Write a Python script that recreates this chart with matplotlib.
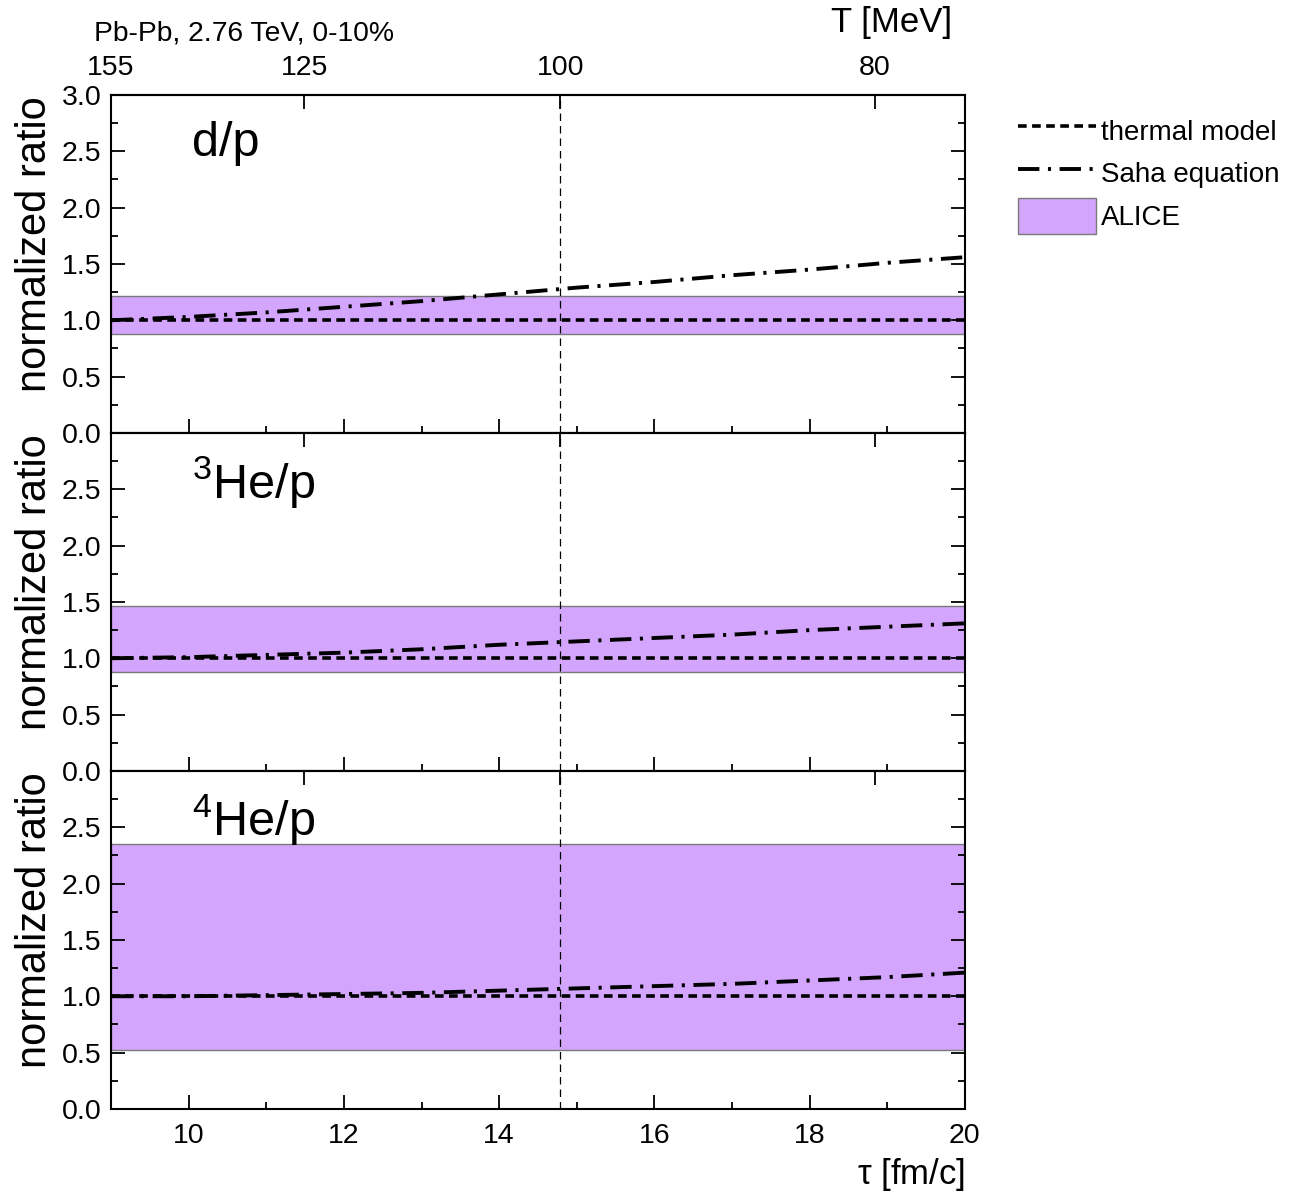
import numpy as np
import matplotlib.pyplot as plt
from matplotlib.patches import Patch
from matplotlib.lines import Line2D
from matplotlib.ticker import MultipleLocator

plt.rcParams['font.family'] = ['Liberation Sans', 'DejaVu Sans']
plt.rcParams['mathtext.fontset'] = 'custom'
plt.rcParams['mathtext.rm'] = 'Liberation Sans'
plt.rcParams['mathtext.it'] = 'Liberation Sans'

# tau [fm/c] grid
tau = [9, 10, 11, 12, 13, 14, 15, 16, 17, 18, 19, 20]

# normalized ratios
thermal = [1.0] * len(tau)
saha_d = [1.00, 1.03, 1.07, 1.12, 1.17, 1.23, 1.29, 1.34, 1.40, 1.45, 1.51, 1.56]
saha_he3 = [1.00, 1.01, 1.03, 1.05, 1.08, 1.12, 1.15, 1.18, 1.21, 1.25, 1.28, 1.31]
saha_he4 = [1.00, 1.00, 1.01, 1.02, 1.03, 1.05, 1.07, 1.09, 1.11, 1.14, 1.17, 1.21]

# ALICE bands (low, high)
alice_d = (0.88, 1.22)
alice_he3 = (0.88, 1.46)
alice_he4 = (0.52, 2.35)

panel_names = ['d/p', r'$^{3}$He/p', r'$^{4}$He/p']

# top axis: temperature at tau
T_labels = ['155', '125', '100', '80']
T_tau = [9.0, 11.49, 14.79, 18.84]
tau_ref = 14.79

band_color = '#d4a5fc'
thermal_ls = (0, (2.4, 1.5))
saha_ls = (0, (5.5, 2.2, 0.8, 2.2))

fig = plt.figure(figsize=(12.94, 11.96), dpi=100)
left, width = 0.0858, 0.6599
h = 0.2826
bottoms = [0.6380, 0.3554, 0.0728]

panels = [(saha_d, alice_d), (saha_he3, alice_he3), (saha_he4, alice_he4)]
axes = []
for i, (saha, band) in enumerate(panels):
    ax = fig.add_axes([left, bottoms[i], width, h])
    axes.append(ax)
    ax.axhspan(band[0], band[1], facecolor=band_color, edgecolor='#7a7a7a', lw=1.0, zorder=1)
    ax.plot(tau, thermal, color='black', lw=2.6, ls=thermal_ls, zorder=3)
    ax.plot(tau, saha, color='black', lw=2.8, ls=saha_ls, zorder=3)
    ax.axvline(tau_ref, color='black', lw=0.9, ls=(0, (6, 4)), zorder=2)
    ax.set_xlim(9, 20)
    ax.set_ylim(0, 3.0)
    ax.xaxis.set_major_locator(MultipleLocator(2))
    ax.xaxis.set_minor_locator(MultipleLocator(1))
    ax.yaxis.set_major_locator(MultipleLocator(0.5))
    ax.yaxis.set_minor_locator(MultipleLocator(0.25))
    ax.yaxis.set_major_formatter(plt.FuncFormatter(lambda v, p: f'{v:.1f}'))
    ax.tick_params(axis='both', which='both', direction='in', right=True, top=False, labelsize=20.5)
    ax.tick_params(axis='both', which='major', length=10, width=1.3)
    ax.tick_params(axis='both', which='minor', length=5, width=1.3)
    ax.tick_params(axis='x', pad=10)
    ax.tick_params(axis='y', pad=7)
    for s in ax.spines.values():
        s.set_linewidth(1.5)
    ax.set_ylabel('normalized ratio', fontsize=30)
    ax.yaxis.set_label_coords(-0.066, 0.56)
    if i > 0:
        ax.set_yticks(np.arange(0, 3.01, 0.5))
        ax.set_yticklabels([f'{v:.1f}' if v < 2.9 else '' for v in np.arange(0, 3.01, 0.5)])
    if i < 2:
        ax.tick_params(axis='x', labelbottom=False)
    sec = ax.secondary_xaxis('top')
    sec.set_xticks(T_tau)
    sec.tick_params(direction='in', length=10, width=1.3, labelsize=20.5, pad=10)
    if i == 0:
        sec.set_xticklabels(T_labels)
    else:
        sec.set_xticklabels([])
    sec.spines['top'].set_linewidth(1.5)
    ax.text(0.095, 0.855, panel_names[i], transform=ax.transAxes, fontsize=35,
            ha='left', va='center')

axes[2].set_xlabel(r'$\tau$ [fm/c]', fontsize=25, loc='right', labelpad=5)

fig.text(0.7357, 0.981, 'T [MeV]', fontsize=25, ha='right', va='center')
fig.text(0.0726, 0.972, 'Pb-Pb, 2.76 TeV, 0-10%', fontsize=20.3, ha='left', va='center')

handles = [
    Line2D([], [], color='black', lw=2.6, ls=thermal_ls),
    Line2D([], [], color='black', lw=2.8, ls=saha_ls),
    Patch(facecolor=band_color, edgecolor='#7a7a7a', lw=1.0),
]
fig.legend(handles, ['thermal model', 'Saha equation', 'ALICE'],
           loc='upper left', bbox_to_anchor=(0.778, 0.915), frameon=False,
           fontsize=20, handlelength=2.8, handleheight=1.6, handletextpad=0.2,
           labelspacing=0.25, borderaxespad=0)

fig.savefig('out.png', dpi=100)
